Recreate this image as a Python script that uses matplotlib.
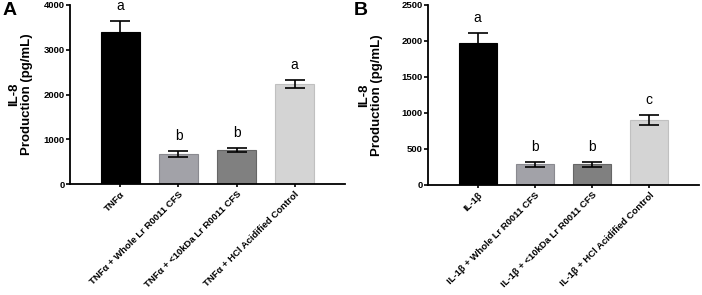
import matplotlib.pyplot as plt

plt.rcParams["font.family"] = ["Liberation Sans", "DejaVu Sans"]
plt.rcParams["font.weight"] = "bold"

labels_a = ["TNFα", "TNFα + Whole Lr R0011 CFS", "TNFα + <10kDa Lr R0011 CFS",
            "TNFα + HCl Acidified Control"]
values_a = [3400, 670, 760, 2230]
errors_a = [250, 75, 45, 85]
letters_a = ["a", "b", "b", "a"]

labels_b = ["IL-1β", "IL-1β + Whole Lr R0011 CFS", "IL-1β + <10kDa Lr R0011 CFS",
            "IL-1β + HCl Acidified Control"]
values_b = [1970, 285, 285, 905]
errors_b = [140, 35, 35, 65]
letters_b = ["a", "b", "b", "c"]

colors = ["#000000", "#a2a2a8", "#808080", "#d4d4d4"]
edges = ["#000000", "#8a8a90", "#666666", "#c0c0c0"]


def draw_panel(ax, labels, values, errors, letters, ymax, step, label_x):
    x = list(range(len(values)))
    ax.bar(x, values, width=0.66, color=colors, edgecolor=edges, linewidth=0.8, zorder=2)
    ax.errorbar(x, values, yerr=errors, fmt="none", ecolor="black",
                elinewidth=1.2, capsize=7, capthick=1.2, zorder=3)
    for xi, v, e, t in zip(x, values, errors, letters):
        ax.text(xi, v + e + ymax * 0.045, t, ha="center", va="bottom",
                fontsize=10, fontweight="normal")
    ax.set_xlim(-0.87, 3.87)
    ax.set_ylim(0, ymax)
    ax.set_yticks(range(0, ymax + 1, step))
    ax.set_xticks(x)
    ax.set_xticklabels(labels, rotation=45, ha="right", rotation_mode="anchor",
                       fontsize=6.8)
    ax.tick_params(axis="y", labelsize=6.8, length=3, width=1.2, pad=1)
    ax.tick_params(axis="x", length=2, width=1.2, pad=2)
    for s in ["top", "right"]:
        ax.spines[s].set_visible(False)
    for s in ["left", "bottom"]:
        ax.spines[s].set_linewidth(1.3)
    ax.set_ylabel("IL-8\nProduction (pg/mL)", fontsize=9.5, fontweight="bold",
                  linespacing=1.05)
    ax.yaxis.set_label_coords(label_x, 0.5)


fig = plt.figure(figsize=(7.02, 2.95), dpi=100)
ax1 = fig.add_axes([70 / 702, 111 / 295, 275 / 702, 179 / 295])
ax2 = fig.add_axes([428 / 702, 110 / 295, 271 / 702, 180 / 295])

draw_panel(ax1, labels_a, values_a, errors_a, letters_a, 4000, 1000, -0.135)
draw_panel(ax2, labels_b, values_b, errors_b, letters_b, 2500, 500, -0.166)

fig.text(3 / 702, 1 - 2 / 295, "A", fontsize=14, fontweight="bold", va="top", ha="left")
fig.text(354 / 702, 1 - 2 / 295, "B", fontsize=14, fontweight="bold", va="top", ha="left")

fig.savefig("out.png", dpi=100)
plt.close(fig)
